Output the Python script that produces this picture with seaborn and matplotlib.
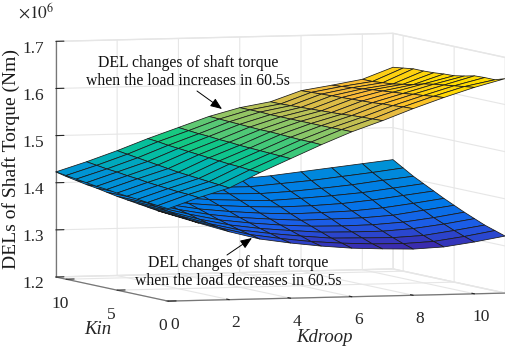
import numpy as np
import matplotlib
matplotlib.use("Agg")
import matplotlib.pyplot as plt
from matplotlib.colors import LinearSegmentedColormap
import seaborn as sns

sns.set_style("white")
plt.rcParams['font.family'] = ['Liberation Serif', 'DejaVu Serif']
plt.rcParams['mathtext.fontset'] = 'stix'

kdroop = [0, 1, 2, 3, 4, 5, 6, 7, 8, 9, 10, 11]
kin = [0, 1, 2, 3, 4, 5, 6, 7, 8, 9, 10, 11]
kin_ticks = [0, 5, 10]

# rows are Kin = 0..11, columns are Kdroop = 0..11 (values x 1e6)
del_increase = [
    [1.396, 1.418, 1.437, 1.468, 1.496, 1.524, 1.550, 1.572, 1.596, 1.618, 1.638, 1.655],
    [1.398, 1.420, 1.439, 1.469, 1.497, 1.525, 1.550, 1.571, 1.595, 1.616, 1.635, 1.648],
    [1.400, 1.421, 1.441, 1.471, 1.498, 1.525, 1.549, 1.570, 1.593, 1.613, 1.632, 1.648],
    [1.402, 1.423, 1.443, 1.472, 1.499, 1.526, 1.549, 1.569, 1.592, 1.611, 1.629, 1.647],
    [1.404, 1.425, 1.445, 1.474, 1.500, 1.527, 1.549, 1.567, 1.590, 1.608, 1.626, 1.642],
    [1.406, 1.427, 1.447, 1.476, 1.501, 1.528, 1.549, 1.566, 1.589, 1.606, 1.622, 1.638],
    [1.409, 1.430, 1.450, 1.478, 1.503, 1.528, 1.549, 1.565, 1.588, 1.604, 1.616, 1.637],
    [1.411, 1.432, 1.453, 1.480, 1.504, 1.529, 1.549, 1.564, 1.587, 1.602, 1.612, 1.635],
    [1.414, 1.435, 1.456, 1.482, 1.506, 1.530, 1.549, 1.563, 1.586, 1.599, 1.608, 1.634],
    [1.417, 1.437, 1.459, 1.484, 1.507, 1.531, 1.550, 1.562, 1.585, 1.597, 1.606, 1.634],
    [1.420, 1.440, 1.462, 1.487, 1.509, 1.532, 1.550, 1.561, 1.584, 1.595, 1.604, 1.631],
    [1.423, 1.443, 1.465, 1.489, 1.511, 1.533, 1.550, 1.561, 1.583, 1.593, 1.604, 1.628],
]
del_decrease = [
    [1.385, 1.364, 1.344, 1.327, 1.317, 1.309, 1.303, 1.300, 1.298, 1.301, 1.310, 1.321],
    [1.387, 1.367, 1.348, 1.332, 1.322, 1.314, 1.309, 1.306, 1.305, 1.308, 1.317, 1.328],
    [1.390, 1.371, 1.352, 1.337, 1.328, 1.321, 1.315, 1.314, 1.313, 1.316, 1.325, 1.335],
    [1.393, 1.375, 1.357, 1.343, 1.334, 1.328, 1.323, 1.322, 1.322, 1.326, 1.334, 1.344],
    [1.396, 1.379, 1.363, 1.349, 1.341, 1.335, 1.331, 1.330, 1.331, 1.335, 1.343, 1.353],
    [1.399, 1.383, 1.368, 1.356, 1.348, 1.343, 1.339, 1.340, 1.341, 1.345, 1.354, 1.363],
    [1.403, 1.388, 1.374, 1.363, 1.356, 1.351, 1.348, 1.349, 1.351, 1.356, 1.364, 1.373],
    [1.407, 1.393, 1.380, 1.370, 1.364, 1.360, 1.358, 1.359, 1.362, 1.368, 1.376, 1.384],
    [1.410, 1.398, 1.387, 1.378, 1.372, 1.369, 1.367, 1.370, 1.374, 1.379, 1.387, 1.395],
    [1.414, 1.403, 1.393, 1.386, 1.380, 1.378, 1.377, 1.380, 1.385, 1.391, 1.399, 1.406],
    [1.418, 1.409, 1.400, 1.394, 1.389, 1.387, 1.387, 1.392, 1.397, 1.404, 1.411, 1.419],
    [1.423, 1.415, 1.408, 1.403, 1.399, 1.398, 1.399, 1.404, 1.411, 1.418, 1.425, 1.432],
]

W, H = 505, 347
parula = LinearSegmentedColormap.from_list("parula_like", [
    (62/255, 38/255, 168/255), (30/255, 90/255, 230/255), (0/255, 120/255, 232/255),
    (0/255, 130/255, 225/255), (0/255, 150/255, 210/255), (0/255, 185/255, 170/255),
    (20/255, 200/255, 130/255), (120/255, 200/255, 110/255), (200/255, 190/255, 80/255),
    (250/255, 185/255, 55/255), (255/255, 220/255, 0/255)])

fig = plt.figure(figsize=(W / 100, H / 100), dpi=100)
S = 539
ax = fig.add_axes([3.7 / W, -97 / H, S / W, S / H], projection='3d',
                  proj_type='ortho', computed_zorder=False)
ax.set_box_aspect((1, 1, 0.665))
ax.view_init(elev=4.1, azim=-108.4)
ax.patch.set_alpha(0)

X, Y = np.meshgrid(kdroop, kin)
zmin, zmax = 1.298, 1.63
for Z, order in ((del_decrease, 2), (del_increase, 3)):
    ax.plot_surface(X, Y, np.array(Z), rstride=1, cstride=1, cmap=parula, vmin=zmin, vmax=zmax,
                    edgecolor='#1a1a1a', linewidth=0.55, shade=False, zorder=order)

ax.set_xlim(0, 11, view_margin=0)
ax.set_ylim(0, 11, view_margin=0)
ax.set_zlim(1.2, 1.7, view_margin=0)
ax.set_xticks([0, 2, 4, 6, 8, 10])
ax.set_yticks(kin_ticks)
for tick in ax.yaxis.get_major_ticks():
    tick.label1.set_visible(False)
ax.set_zticks([1.2, 1.3, 1.4, 1.5, 1.6, 1.7])
ax.set_zticklabels(['1.2', '1.3', '1.4', '1.5', '1.6', '1.7'])

for axis in (ax.xaxis, ax.yaxis, ax.zaxis):
    axis.set_pane_color((1, 1, 1, 1))
    axis.pane.set_edgecolor('#e6e6e6')
    axis.line.set_color('#777777')
    axis.line.set_linewidth(0.9)
    axis.label.set_visible(False)
    axis.offsetText.set_visible(False)
    axis._axinfo['grid']['color'] = '#e6e6e6'
    axis._axinfo['grid']['linewidth'] = 0.8
    axis._axinfo['tick']['inward_factor'] = 0.0
    axis._axinfo['tick']['outward_factor'] = 0.3
    axis._axinfo['tick']['color'] = '#777777'
ax.tick_params(axis='x', labelsize=12.5, colors='#262626', pad=4)
ax.tick_params(axis='z', labelsize=12.5, colors='#262626', pad=2)
ax.grid(True)

# Kin labels sit below the ticks, the default tick label spot is too far left
for k in kin_ticks:
    ax.text(-0.18, k, 1.148, str(k), fontsize=12.5, color='#262626', ha='center', va='center')


def fx(px):
    return px / W


def fy(py):
    return 1 - py / H


fig.text(fx(18), fy(12), r'$\times 10^6$', fontsize=12.5, va='center', color='#262626')
fig.text(fx(11), fy(159), 'DELs of Shaft Torque (Nm)', fontsize=14, rotation=90,
         ha='center', va='center', color='#1a1a1a')
fig.text(fx(98), fy(329), 'Kin', fontsize=13.5, style='italic', ha='center', va='center')
fig.text(fx(324), fy(337), 'Kdroop', fontsize=13.5, style='italic', ha='center', va='center')

fig.text(fx(188), fy(72), 'DEL changes of shaft torque\nwhen the load increases in 60.5s',
         fontsize=11.3, ha='center', va='center', linespacing=1.2, color='#111111')
fig.text(fx(238), fy(272), 'DEL changes of shaft torque\nwhen the load decreases in 60.5s',
         fontsize=11.3, ha='center', va='center', linespacing=1.2, color='#111111')

arrow = dict(arrowstyle='-|>,head_length=0.7,head_width=0.28', color='black', lw=0.7,
             shrinkA=0, shrinkB=0)
ax.annotate('', xy=(fx(222), fy(109)), xytext=(fx(197), fy(91)), xycoords='figure fraction',
            textcoords='figure fraction', arrowprops=arrow, annotation_clip=False)
ax.annotate('', xy=(fx(252), fy(238)), xytext=(fx(227), fy(255)), xycoords='figure fraction',
            textcoords='figure fraction', arrowprops=arrow, annotation_clip=False)

fig.savefig('out.png', dpi=100)
